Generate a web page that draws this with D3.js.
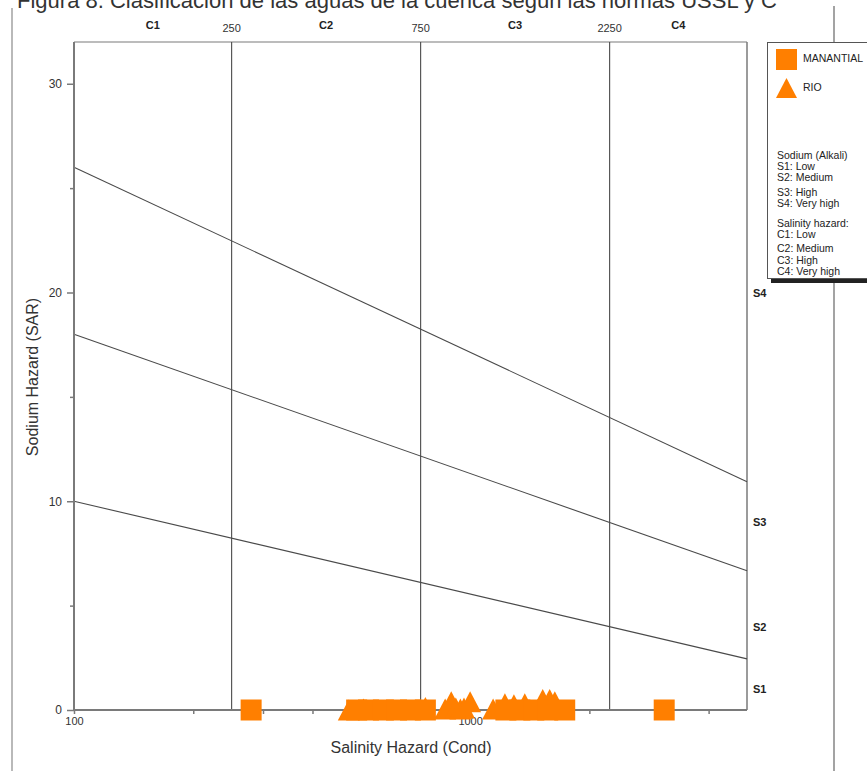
<!DOCTYPE html>
<html>
<head>
<meta charset="utf-8">
<script src="https://cdn.jsdelivr.net/npm/d3@7"></script>
<style>
  html, body { margin: 0; padding: 0; background: #fff; }
  svg { display: block; }
</style>
</head>
<body>
<svg id="chart" width="867" height="771"></svg>
<script>
// Samples: electrical conductivity (µS/cm) and SAR
const manantialEC  = [280, 517, 554, 604, 652, 707, 771, 1231, 1335, 1448, 1570, 1733, 3090];
const manantialSAR = [0, 0, 0, 0, 0, 0, 0, 0, 0, 0, 0, 0, 0];
const rioEC  = [494, 538, 771, 865, 896, 920, 945, 965, 1000, 1143, 1224, 1290, 1374, 1525, 1588, 1636];
const rioSAR = [0, 0.05, 0.12, 0.05, 0.4, 0.1, 0.05, 0.1, 0.4, 0.05, 0.3, 0.25, 0.3, 0.5, 0.5, 0.4];

// Sodium hazard boundaries (S1/S2, S2/S3, S3/S4): SAR at EC = 100 and EC = 5000
const boundaryEC = [100, 5000];
const boundarySARLow  = [10, 18, 26];
const boundarySARHigh = [2.45, 6.67, 10.94];

// Salinity class breaks and labels
const salinityBreaks = [250, 750, 2250];
const salinityClasses = ["C1", "C2", "C3", "C4"];
const sodiumClasses = ["S1", "S2", "S3", "S4"];
const sodiumLabelSAR = [1, 4, 9, 20];

const yTicks = [0, 10, 20, 30];
const yMinorTicks = [5, 15, 25];
const xTicks = [100, 200, 300, 400, 500, 600, 700, 800, 900, 1000, 2000, 3000, 4000];
const xTickLabels = [100, 1000];

const legendSeries = ["MANANTIAL", "RIO"];
const legendNotes = [
  ["Sodium (Alkali)", "S1: Low", "S2: Medium", "S3: High", "S4: Very high"],
  ["Salinity hazard:", "C1: Low", "C2: Medium", "C3: High", "C4: Very high"]
];

const caption = "Figura 8. Clasificación de las aguas de la cuenca según las normas USSL y C";

const svg = d3.select("#chart");
const narrow = "'Liberation Sans Narrow', 'Arial Narrow', 'Liberation Sans', Arial, sans-serif";
const sans = "'Liberation Sans', Arial, sans-serif";
const orange = "#ff7f00";
const lineCol = "#4a4a4a";
const axisCol = "#7a7a7a";

const x = d3.scaleLog().domain([100, 5000]).range([74, 747]);
const y = d3.scaleLinear().domain([0, 32]).range([710, 42]);

// Caption running off the top of the page
svg.append("text")
  .attr("x", 17).attr("y", 8)
  .attr("textLength", 760).attr("lengthAdjust", "spacing")
  .attr("font-family", sans).attr("font-size", 22).attr("fill", "#333")
  .text(caption);

// Page rules
svg.append("line").attr("x1", 12).attr("x2", 12).attr("y1", 8).attr("y2", 771)
  .attr("stroke", "#8a8a8a").attr("stroke-width", 1.2);
svg.append("line").attr("x1", 834).attr("x2", 834).attr("y1", 6).attr("y2", 771)
  .attr("stroke", "#666").attr("stroke-width", 1.2);

const plot = svg.append("g");

// Frame: top and right edges
plot.append("line").attr("x1", x.range()[0]).attr("x2", x.range()[1])
  .attr("y1", y(32)).attr("y2", y(32)).attr("stroke", axisCol).attr("stroke-width", 1.2);
plot.append("line").attr("x1", x(5000)).attr("x2", x(5000))
  .attr("y1", y(32)).attr("y2", y(0)).attr("stroke", axisCol).attr("stroke-width", 1.5);

// Salinity class dividers
plot.selectAll(".cdiv").data(salinityBreaks).join("line")
  .attr("x1", d => x(d)).attr("x2", d => x(d))
  .attr("y1", y(32)).attr("y2", y(0))
  .attr("stroke", lineCol).attr("stroke-width", 1.1);

// Sodium hazard boundaries
plot.selectAll(".sdiv").data(boundarySARLow.map((v, i) => [v, boundarySARHigh[i]])).join("line")
  .attr("x1", x(boundaryEC[0])).attr("x2", x(boundaryEC[1]))
  .attr("y1", d => y(d[0])).attr("y2", d => y(d[1]))
  .attr("stroke", lineCol).attr("stroke-width", 1.1);

// Y axis
const yAxis = plot.append("g").attr("transform", `translate(${x(100)},0)`)
  .call(d3.axisLeft(y).tickValues(yTicks).tickSize(7).tickPadding(5));
yAxis.select(".domain").attr("stroke", axisCol).attr("stroke-width", 2).attr("d", `M0,${y(32)}V${y(0)}`);
yAxis.selectAll(".tick line").attr("stroke", axisCol).attr("stroke-width", 1.5);
yAxis.selectAll(".tick text").attr("font-family", narrow).attr("font-size", 12).attr("fill", "#333");
plot.append("g").attr("transform", `translate(${x(100)},0)`)
  .call(d3.axisLeft(y).tickValues(yMinorTicks).tickSize(4).tickFormat(""))
  .call(g => g.select(".domain").remove())
  .selectAll(".tick line").attr("stroke", axisCol).attr("stroke-width", 1.5);

// X axis
const xAxis = plot.append("g").attr("transform", `translate(0,${y(0)})`)
  .call(d3.axisBottom(x).tickValues(xTicks).tickSize(4).tickPadding(3)
    .tickFormat(d => xTickLabels.includes(d) ? d : ""));
xAxis.select(".domain").attr("stroke", axisCol).attr("stroke-width", 2).attr("d", `M${x(100)},0H${x(5000)}`);
xAxis.selectAll(".tick line").attr("stroke", axisCol).attr("stroke-width", 1.5);
xAxis.selectAll(".tick text").attr("font-family", narrow).attr("font-size", 11).attr("fill", "#333");

// Class labels along the top
plot.selectAll(".clab").data(salinityClasses).join("text")
  .attr("x", (d, i) => {
    const edges = [100, ...salinityBreaks, 5000];
    return x(Math.sqrt(edges[i] * edges[i + 1]));
  })
  .attr("y", 29).attr("text-anchor", "middle")
  .attr("font-family", narrow).attr("font-size", 11).attr("font-weight", "bold").attr("fill", "#222")
  .text(d => d);
plot.selectAll(".blab").data(salinityBreaks).join("text")
  .attr("x", d => x(d)).attr("y", 32).attr("text-anchor", "middle")
  .attr("font-family", narrow).attr("font-size", 11).attr("fill", "#333")
  .text(d => d);

// Sodium class labels on the right
plot.selectAll(".slab").data(sodiumClasses).join("text")
  .attr("x", x(5000) + 6).attr("y", (d, i) => y(sodiumLabelSAR[i]) + 4)
  .attr("font-family", narrow).attr("font-size", 11).attr("font-weight", "bold").attr("fill", "#222")
  .text(d => d);

// Axis titles
svg.append("text")
  .attr("transform", `translate(38,${(y(0) + y(32)) / 2 + 1}) rotate(-90)`)
  .attr("text-anchor", "middle").attr("font-family", sans).attr("font-size", 16).attr("fill", "#333")
  .text("Sodium Hazard (SAR)");
svg.append("text")
  .attr("x", 411).attr("y", 753).attr("text-anchor", "middle")
  .attr("font-family", sans).attr("font-size", 16).attr("fill", "#333")
  .text("Salinity Hazard (Cond)");

// Marker shapes (box-centred)
const squarePath = s => `M${-s / 2},${-s / 2}h${s}v${s}h${-s}Z`;
const trianglePath = (w, h) => `M0,${-h / 2}L${w / 2},${h / 2}L${-w / 2},${h / 2}Z`;

const marks = plot.append("g");
marks.selectAll(".rio").data(rioEC.map((ec, i) => [ec, rioSAR[i]])).join("path")
  .attr("d", trianglePath(22, 21))
  .attr("transform", d => `translate(${x(d[0])},${y(d[1])})`)
  .attr("fill", orange);
marks.selectAll(".man").data(manantialEC.map((ec, i) => [ec, manantialSAR[i]])).join("path")
  .attr("d", squarePath(21))
  .attr("transform", d => `translate(${x(d[0])},${y(d[1])})`)
  .attr("fill", orange);

// Legend
const lg = svg.append("g").attr("transform", "translate(767,42)");
lg.append("rect").attr("x", 4).attr("y", 4).attr("width", 120).attr("height", 237).attr("fill", "#222");
lg.append("rect").attr("x", 0.5).attr("y", 0.5).attr("width", 120).attr("height", 236)
  .attr("fill", "#fff").attr("stroke", "#555").attr("stroke-width", 1);
lg.append("path").attr("d", squarePath(21)).attr("transform", "translate(19.5,17.5)").attr("fill", orange);
lg.append("path").attr("d", trianglePath(21, 20)).attr("transform", "translate(19.5,46)").attr("fill", orange);
lg.selectAll(".ser").data(legendSeries).join("text")
  .attr("x", 36).attr("y", (d, i) => 20 + i * 29)
  .attr("font-family", narrow).attr("font-size", 10.5).attr("fill", "#222")
  .text(d => d);
const noteY = [[117, 128, 139, 154, 165], [185, 196, 210, 222, 233]];
legendNotes.forEach((block, b) => {
  lg.selectAll(".n" + b).data(block).join("text")
    .attr("x", 10).attr("y", (d, i) => noteY[b][i])
    .attr("font-family", narrow).attr("font-size", 10.5).attr("fill", "#222")
    .text(d => d);
});
</script>
</body>
</html>
